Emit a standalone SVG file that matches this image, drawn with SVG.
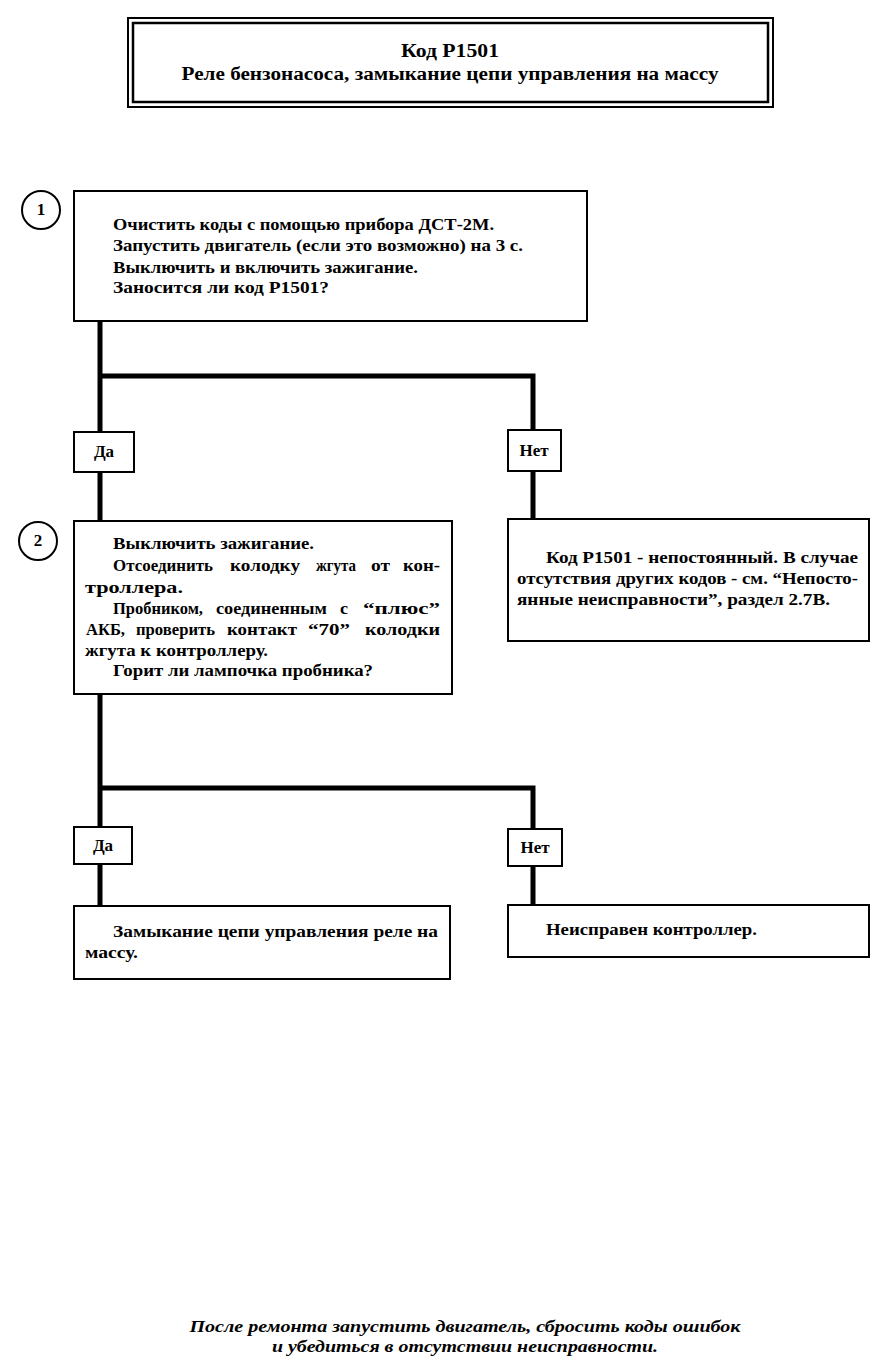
<svg xmlns="http://www.w3.org/2000/svg" width="889" height="1368" viewBox="0 0 889 1368">
<style>
text{font-family:"Liberation Serif","DejaVu Serif",serif;font-weight:bold;font-size:17px;fill:#000}
.t{font-size:18px}
.c{text-anchor:middle}
.f{font-style:italic;font-size:17px}
.box{fill:#fff;stroke:#000;stroke-width:2}
.lbl{fill:#fff;stroke:#000;stroke-width:2}
.w{fill:none;stroke:#000;stroke-width:5;stroke-linecap:square}
.circ{fill:#fff;stroke:#000;stroke-width:2}
</style>
<rect width="889" height="1368" fill="#fff"/>
<g id="title">
<rect x="128" y="18" width="645" height="89" fill="#fff" stroke="#000" stroke-width="2"/>
<rect x="133" y="23" width="635" height="79" fill="none" stroke="#000" stroke-width="2.5"/>
<text class="t c" x="450" y="57" textLength="98" lengthAdjust="spacingAndGlyphs">Код Р1501</text>
<text class="t c" x="450" y="80" textLength="537" lengthAdjust="spacingAndGlyphs">Реле бензонасоса, замыкание цепи управления на массу</text>
</g>
<g id="connectors">
<path class="w" d="M100 322 V432 M100 376 H533 V430 M100 472 V521 M533 471 V519"/>
<path class="w" d="M100 695 V827 M100 788 H533 V829 M100 864 V906 M533 866 V905"/>
</g>
<g id="step1">
<circle class="circ" cx="41" cy="210" r="19"/>
<text class="c" x="41" y="215">1</text>
<rect class="box" x="74" y="191" width="513" height="130"/>
<text x="113" y="230" textLength="381" lengthAdjust="spacingAndGlyphs">Очистить коды с помощью прибора ДСТ-2М.</text>
<text x="113" y="251" textLength="410" lengthAdjust="spacingAndGlyphs">Запустить двигатель (если это возможно) на 3 с.</text>
<text x="113" y="273" textLength="305" lengthAdjust="spacingAndGlyphs">Выключить и включить зажигание.</text>
<text x="113" y="293" textLength="216" lengthAdjust="spacingAndGlyphs">Заносится ли код Р1501?</text>
</g>
<g id="yes1">
<rect class="lbl" x="74" y="432" width="60" height="40"/>
<text class="c" x="104" y="457">Да</text>
</g>
<g id="no1">
<rect class="lbl" x="508" y="430" width="53" height="41"/>
<text class="c" x="534" y="456">Нет</text>
</g>
<g id="step2">
<circle class="circ" cx="38" cy="541" r="19"/>
<text class="c" x="38" y="546">2</text>
<rect class="box" x="74" y="521" width="378" height="173"/>
<text x="113" y="549" textLength="201" lengthAdjust="spacingAndGlyphs">Выключить зажигание.</text>
<text y="571"><tspan x="113" textLength="100" lengthAdjust="spacingAndGlyphs">Отсоединить</tspan><tspan x="230" textLength="70" lengthAdjust="spacingAndGlyphs">колодку</tspan><tspan x="316" textLength="40" lengthAdjust="spacingAndGlyphs">жгута</tspan><tspan x="371" textLength="19" lengthAdjust="spacingAndGlyphs">от</tspan><tspan x="403" textLength="37" lengthAdjust="spacingAndGlyphs">кон-</tspan></text>
<text x="85" y="593" textLength="98" lengthAdjust="spacingAndGlyphs">троллера.</text>
<text y="614"><tspan x="113" textLength="90" lengthAdjust="spacingAndGlyphs">Пробником,</tspan><tspan x="216" textLength="111" lengthAdjust="spacingAndGlyphs">соединенным</tspan><tspan x="340" textLength="8" lengthAdjust="spacingAndGlyphs">с</tspan><tspan x="363" textLength="77" lengthAdjust="spacingAndGlyphs">“плюс”</tspan></text>
<text y="635"><tspan x="86" textLength="39" lengthAdjust="spacingAndGlyphs">АКБ,</tspan><tspan x="136" textLength="79" lengthAdjust="spacingAndGlyphs">проверить</tspan><tspan x="227" textLength="70" lengthAdjust="spacingAndGlyphs">контакт</tspan><tspan x="308" textLength="42" lengthAdjust="spacingAndGlyphs">“70”</tspan><tspan x="365" textLength="75" lengthAdjust="spacingAndGlyphs">колодки</tspan></text>
<text x="85" y="656" textLength="183" lengthAdjust="spacingAndGlyphs">жгута к контроллеру.</text>
<text x="113" y="676" textLength="260" lengthAdjust="spacingAndGlyphs">Горит ли лампочка пробника?</text>
</g>
<g id="intermittent">
<rect class="box" x="508" y="519" width="361" height="122"/>
<text x="546" y="563" textLength="312" lengthAdjust="spacingAndGlyphs">Код Р1501 - непостоянный. В случае</text>
<text x="517" y="584" textLength="341" lengthAdjust="spacingAndGlyphs">отсутствия других кодов - см. “Непосто-</text>
<text x="517" y="605" textLength="313" lengthAdjust="spacingAndGlyphs">янные неисправности”, раздел 2.7В.</text>
</g>
<g id="yes2">
<rect class="lbl" x="74" y="827" width="58" height="37"/>
<text class="c" x="103" y="851">Да</text>
</g>
<g id="no2">
<rect class="lbl" x="508" y="829" width="54" height="37"/>
<text class="c" x="535" y="853">Нет</text>
</g>
<g id="short">
<rect class="box" x="74" y="906" width="376" height="73"/>
<text x="113" y="937" textLength="325" lengthAdjust="spacingAndGlyphs">Замыкание цепи управления реле на</text>
<text x="85" y="958" textLength="53" lengthAdjust="spacingAndGlyphs">массу.</text>
</g>
<g id="ecu">
<rect class="box" x="508" y="905" width="361" height="52"/>
<text x="546" y="935" textLength="211" lengthAdjust="spacingAndGlyphs">Неисправен контроллер.</text>
</g>
<g id="footer">
<text class="f c" x="465" y="1332" textLength="551" lengthAdjust="spacingAndGlyphs">После ремонта запустить двигатель, сбросить коды ошибок</text>
<text class="f c" x="465" y="1352" textLength="386" lengthAdjust="spacingAndGlyphs">и убедиться в отсутствии неисправности.</text>
</g>
</svg>
